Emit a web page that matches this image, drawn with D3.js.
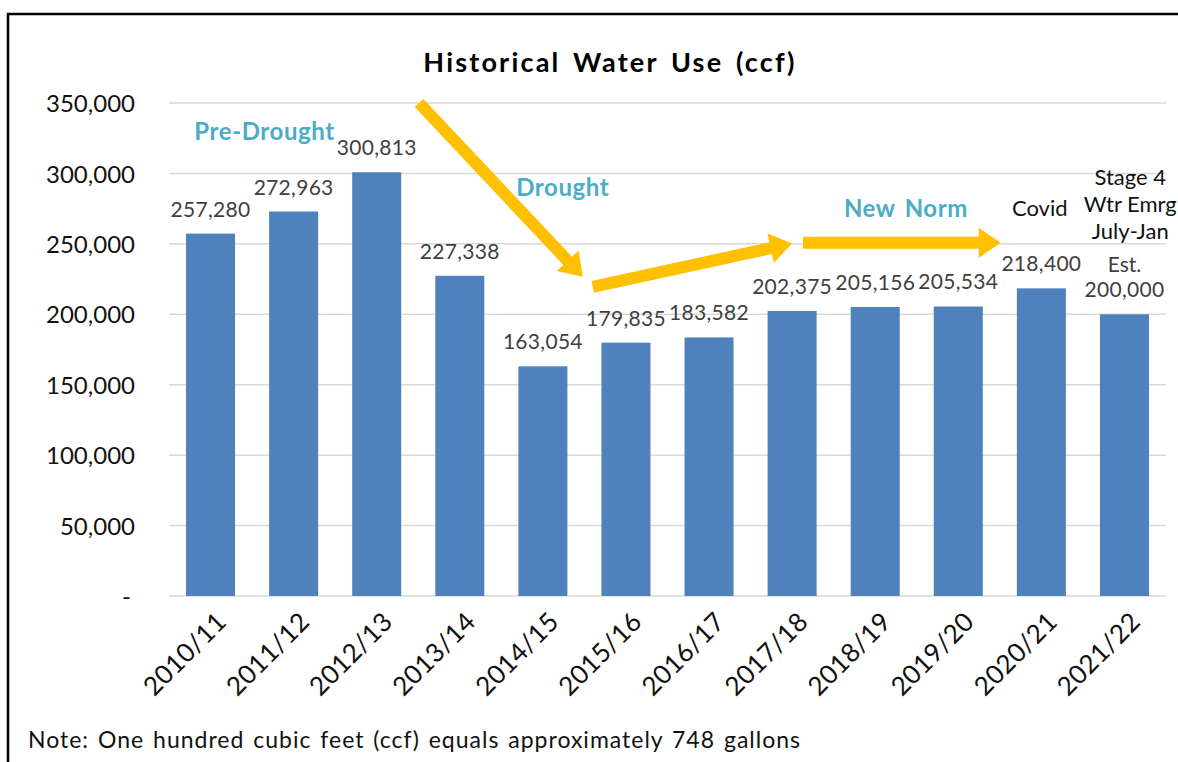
<!DOCTYPE html>
<html>
<head>
<meta charset="utf-8">
<script src="https://cdn.jsdelivr.net/npm/d3@7"></script>
<style>
  body { margin: 0; background: #fff; }
  svg { display: block; font-family: Lato, "Open Sans", sans-serif; }
</style>
</head>
<body>
<div id="chart"></div>
<script>
// ---- data ----
var years = ["2010/11","2011/12","2012/13","2013/14","2014/15","2015/16",
             "2016/17","2017/18","2018/19","2019/20","2020/21","2021/22"];
var usage = [257280, 272963, 300813, 227338, 163054, 179835,
             183582, 202375, 205156, 205534, 218400, 200000];
var yTicks = [0, 50000, 100000, 150000, 200000, 250000, 300000, 350000];

// phase arrows, x in category units (0..12), y in ccf
var arrows = [
  {x1: 3.01, y1: 350000, x2: 4.98, y2: 226600},
  {x1: 5.10, y1: 219500, x2: 7.50, y2: 250300},
  {x1: 7.63, y1: 250700, x2: 10.01, y2: 250700}
];
var phaseLabels = [
  {text: "Pre-Drought", x: 1.15, y: 323500},
  {text: "Drought",     x: 4.74, y: 284000},
  {text: "New Norm",    x: 8.87, y: 269000}
];
var notes = [
  {text: "Covid",    x: 10.48, y: 269800},
  {text: "Stage 4",  x: 11.57, y: 291500},
  {text: "Wtr Emrg", x: 11.57, y: 272300},
  {text: "July-Jan", x: 11.57, y: 253100}
];

var W = 1178, H = 762;
var x0 = 169, x1 = 1166, yBase = 596, yTop = 103;

var svg = d3.select("#chart").append("svg")
  .attr("width", W).attr("height", H);

// outer frame
svg.append("rect")
  .attr("x", 8).attr("y", 14).attr("width", 1300).attr("height", 900)
  .attr("fill", "none").attr("stroke", "#000").attr("stroke-width", 2.5);

var x = d3.scaleBand().domain(years).range([x0, x1]).paddingInner(0.41).paddingOuter(0.205);
var xPos = d3.scaleLinear().domain([0, 12]).range([x0, x1]);
var y = d3.scaleLinear().domain([0, 350000]).range([yBase, yTop]);

// title
svg.append("text")
  .attr("x", 610).attr("y", 72)
  .attr("text-anchor", "middle")
  .style("font-size", "27px").style("font-weight", "bold")
  .style("letter-spacing", "2.2px").style("word-spacing", "4px")
  .text("Historical Water Use (ccf)");

// gridlines
svg.append("g").selectAll("line")
  .data(yTicks).enter().append("line")
    .attr("x1", x0).attr("x2", x1)
    .attr("y1", function(d) { return y(d); })
    .attr("y2", function(d) { return y(d); })
    .attr("stroke", "#d9d9d9").attr("stroke-width", 1.5);

// y axis labels
var yAxis = d3.axisLeft(y).tickValues(yTicks).tickSize(0).tickPadding(0)
  .tickFormat(function(d) { return d === 0 ? "-" : d3.format(",")(d); });
var ya = svg.append("g").attr("transform", "translate(135,0)").call(yAxis);
ya.select(".domain").remove();
ya.selectAll("text")
  .style("font-size", "24px").style("font-family", "Lato, sans-serif")
  .attr("fill", "#111").attr("dy", "0.36em");
ya.selectAll("text").filter(function(d) { return d === 0; }).attr("dx", "-4px");

// bars
svg.append("g").selectAll("rect")
  .data(usage).enter().append("rect")
    .attr("x", function(d, i) { return x(years[i]); })
    .attr("width", x.bandwidth())
    .attr("y", function(d) { return y(d); })
    .attr("height", function(d) { return yBase - y(d); })
    .attr("fill", "#4f81bd");

// value labels
svg.append("g").selectAll("text")
  .data(usage).enter().append("text")
    .attr("x", function(d, i) { return x(years[i]) + x.bandwidth() / 2; })
    .attr("y", function(d) { return y(d) - 17; })
    .attr("text-anchor", "middle")
    .attr("fill", "#404040")
    .style("font-size", "21px").style("letter-spacing", "0.3px")
    .text(function(d) { return d3.format(",")(d); });

// "Est." above the last value label
svg.append("text")
  .attr("x", x(years[11]) + x.bandwidth() / 2)
  .attr("y", y(usage[11]) - 42)
  .attr("text-anchor", "middle")
  .attr("fill", "#404040")
  .style("font-size", "21px")
  .text("Est.");

// x axis labels
svg.append("g").selectAll("text")
  .data(years).enter().append("text")
    .attr("transform", function(d) {
      return "translate(" + (x(d) + x.bandwidth() / 2 + 11) + "," + 617 + ") rotate(-45)";
    })
    .attr("text-anchor", "end")
    .attr("dy", "0.35em")
    .attr("fill", "#111")
    .style("font-size", "26px").style("letter-spacing", "0.3px")
    .text(function(d) { return d; });

// phase arrows
function arrowPath(a) {
  var ax = xPos(a.x1), ay = y(a.y1), bx = xPos(a.x2), by = y(a.y2);
  var dx = bx - ax, dy = by - ay, len = Math.sqrt(dx * dx + dy * dy);
  var ux = dx / len, uy = dy / len, nx = -uy, ny = ux;
  var sw = 6, hw = 15, hl = 22;
  var hx = bx - ux * hl, hy = by - uy * hl;
  var pts = [
    [ax + nx * sw, ay + ny * sw],
    [hx + nx * sw, hy + ny * sw],
    [hx + nx * hw, hy + ny * hw],
    [bx, by],
    [hx - nx * hw, hy - ny * hw],
    [hx - nx * sw, hy - ny * sw],
    [ax - nx * sw, ay - ny * sw]
  ];
  return "M" + pts.map(function(p) { return p.join(","); }).join("L") + "Z";
}
svg.append("g").selectAll("path")
  .data(arrows).enter().append("path")
    .attr("d", arrowPath)
    .attr("fill", "#ffc000");

// phase labels
svg.append("g").selectAll("text")
  .data(phaseLabels).enter().append("text")
    .attr("x", function(d) { return xPos(d.x); })
    .attr("y", function(d) { return y(d.y); })
    .attr("text-anchor", "middle")
    .attr("fill", "#4bacc6")
    .style("font-size", "24px").style("font-weight", "bold")
    .style("letter-spacing", "0.6px").style("word-spacing", "3px")
    .text(function(d) { return d.text; });

// black notes
svg.append("g").selectAll("text")
  .data(notes).enter().append("text")
    .attr("x", function(d) { return xPos(d.x); })
    .attr("y", function(d) { return y(d.y); })
    .attr("text-anchor", "middle")
    .attr("fill", "#111")
    .style("font-size", "22px")
    .text(function(d) { return d.text; });

// footnote
svg.append("text")
  .attr("x", 28).attr("y", 748)
  .attr("fill", "#111")
  .style("font-size", "23px").style("letter-spacing", "1.0px").style("word-spacing", "2px")
  .text("Note: One hundred cubic feet (ccf) equals approximately 748 gallons");
</script>
</body>
</html>
